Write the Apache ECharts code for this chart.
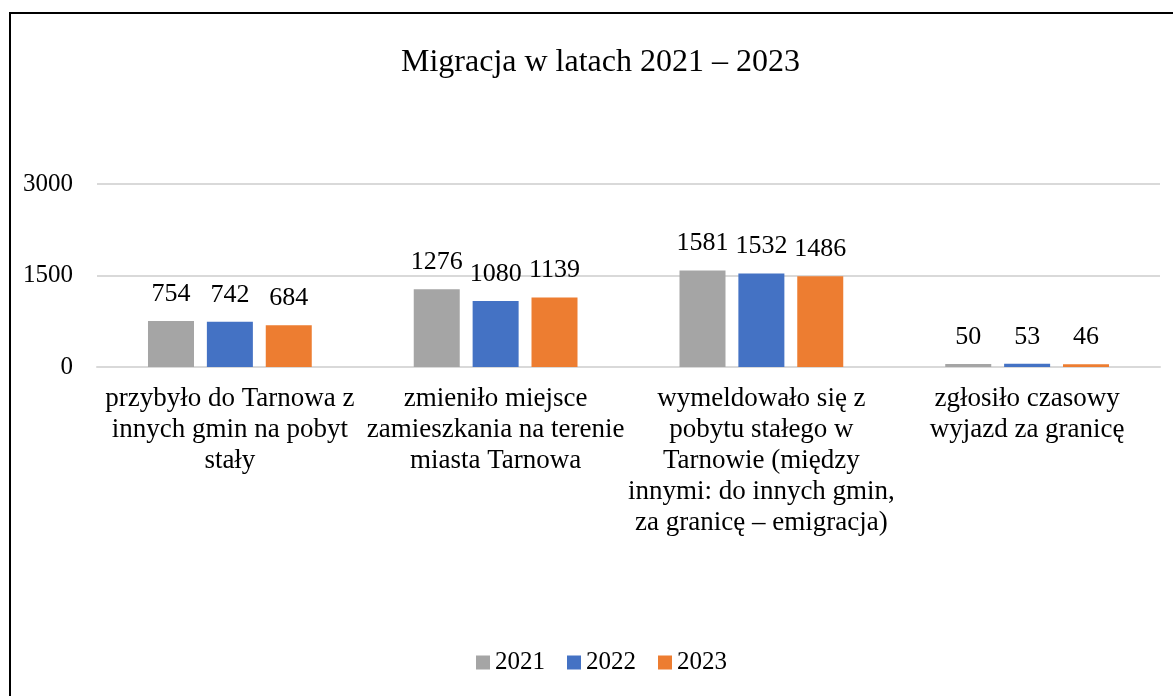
<!DOCTYPE html>
<html>
<head>
<meta charset="utf-8">
<script src="https://cdn.jsdelivr.net/npm/echarts@6/dist/echarts.min.js"></script>
<style>
  html, body { margin: 0; padding: 0; background: #fff; }
  #chart { width: 1173px; height: 696px; }
</style>
</head>
<body>
<div id="chart"></div>
<script>
// dane
var categories = [
    'przybyło do Tarnowa z\ninnych gmin na pobyt\nstały',
    'zmieniło miejsce\nzamieszkania na terenie\nmiasta Tarnowa',
    'wymeldowało się z\npobytu stałego w\nTarnowie (między\ninnymi: do innych gmin,\nza granicę – emigracja)',
    'zgłosiło czasowy\nwyjazd za granicę'
];
var years = ['2021', '2022', '2023'];
var values2021 = [754, 1276, 1581, 50];
var values2022 = [742, 1080, 1532, 53];
var values2023 = [684, 1139, 1486, 46];
var yTicks = [0, 1500, 3000];

var colors = ['#A5A5A5', '#4472C4', '#ED7D31'];
var font = "'Liberation Serif', 'Times New Roman', serif";

var chart = echarts.init(document.getElementById('chart'));

function makeSeries(name, data, color) {
    return {
        name: name,
        type: 'bar',
        data: data,
        barWidth: 46,
        barGap: '28%',
        itemStyle: { color: color },
        label: {
            show: true,
            position: 'top',
            distance: 14,
            color: '#000',
            fontFamily: font,
            fontSize: 26
        }
    };
}

var option = {
    animation: false,
    textStyle: { fontFamily: font },
    title: {
        text: 'Migracja w latach 2021 – 2023',
        left: 396,
        top: 42,
        textStyle: { fontFamily: font, fontSize: 32, fontWeight: 'normal', color: '#000' }
    },
    graphic: [{
        type: 'rect',
        shape: { x: 10, y: 13, width: 1200, height: 720 },
        style: { fill: 'none', stroke: '#000', lineWidth: 2 },
        silent: true
    }],
    legend: {
        bottom: 16,
        left: 471,
        itemWidth: 14,
        itemHeight: 14,
        itemGap: 22,
        icon: 'rect',
        textStyle: { fontFamily: font, fontSize: 25, color: '#000' },
        data: years
    },
    grid: { left: 97, right: 13, top: 184, bottom: 329, containLabel: false },
    xAxis: {
        type: 'category',
        data: categories,
        axisLine: { lineStyle: { color: '#D9D9D9', width: 2 } },
        axisTick: { show: false },
        axisLabel: {
            interval: 0,
            margin: 16,
            color: '#000',
            fontFamily: font,
            fontSize: 27,
            lineHeight: 31
        }
    },
    yAxis: {
        type: 'value',
        min: yTicks[0],
        max: yTicks[yTicks.length - 1],
        interval: yTicks[1] - yTicks[0],
        axisLine: { show: false },
        axisTick: { show: false },
        splitLine: { lineStyle: { color: '#D9D9D9', width: 2 } },
        axisLabel: {
            color: '#000',
            fontFamily: font,
            fontSize: 25,
            margin: 24,
            formatter: function (v) { return String(v); }
        }
    },
    series: [
        makeSeries(years[0], values2021, colors[0]),
        makeSeries(years[1], values2022, colors[1]),
        makeSeries(years[2], values2023, colors[2])
    ]
};

chart.setOption(option);
</script>
</body>
</html>
